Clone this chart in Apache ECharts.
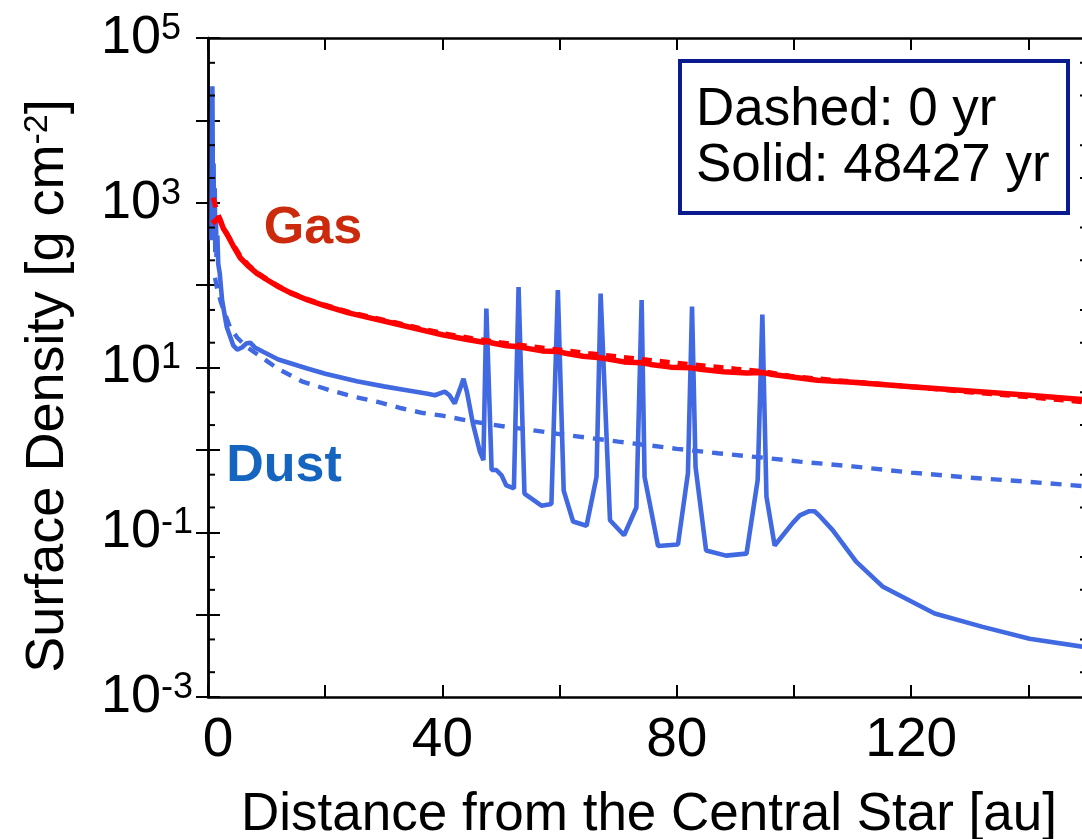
<!DOCTYPE html>
<html><head><meta charset="utf-8">
<script src="https://cdn.jsdelivr.net/npm/echarts@6/dist/echarts.min.js"></script>
<style>html,body{margin:0;padding:0;background:#fff}#c{width:1082px;height:839px}</style>
</head><body><div id="c"></div>
<script>
// ---- data ----
const gasX0 = [0.9,1.2,1.6,2.0,2.6,3.2,4.3,5.5,6.8,8.3,10,12,14,17,20,24,28,32,36,40,45,50,55,60,65,70,75,80,85,90,95,100,110,120,130,140,150];
const gasY0 = [1150,950,760,640,500,420,310,225,178,142,118,97,82,67,57,47,40.5,35,30,26,22.5,20,18,16.3,14.8,13.5,12.3,11.3,10.4,9.6,8.9,7.7,6.7,5.85,5.05,4.4,3.8];

const gasX1 = [0.75,1.2,1.9,2.3,2.6,3.2,4.3,5.5,6.8,8.3,10,12,14,17,20,24,28,32,36,40,44,47.0,47.7,48.5,51,53.0,54,57,59.7,61,64,67.0,68.5,71,74.0,75.5,79,82.6,84,88,92,94.6,96,100,104,110,120,130,140,150];
const gasY1 = [560,600,660,560,490,420,300,215,172,140,117,96,81,66,56,46,39.5,34,29,25,22,20.3,20.8,19.8,18.4,17.9,17.3,15.9,15.6,14.9,13.7,13.1,12.6,11.7,11.4,10.9,10.1,9.9,9.5,8.9,8.6,8.7,8.3,7.6,7.0,6.6,5.85,5.2,4.6,4.05];

const dustX0 = [1.2,1.6,2.2,3.0,3.75,5,6.5,9,12,16,20.8,25,28.8,33,36.7,40,45,50,55,60,65,70,75,80,87,95,101,110,120,130,140,150];
const dustY0 = [123,88,62,43,31,23,18,13.5,9.6,6.8,5.3,4.4,3.84,3.2,2.8,2.6,2.22,1.95,1.75,1.55,1.4,1.26,1.14,1.03,0.91,0.8,0.72,0.63,0.53,0.46,0.41,0.36];

const dustX1 = [0.6,0.75,0.85,0.95,1.05,1.15,1.25,1.35,1.45,1.6,1.75,2.0,2.4,3.2,4.3,5.0,5.8,6.5,7.2,8.0,9.4,12,16.8,20,25.4,30,33.9,37.5,38.7,40.4,41.2,42.1,43.0,43.6,44.2,45.2,46.4,47.0,47.5,48.4,49.2,50.1,50.9,52.2,53.0,54.0,56.9,58.6,59.7,60.7,62.3,64.6,66.3,67.0,68.6,71.0,73.1,74.0,74.5,76.8,80.2,81.9,82.6,83.2,85.0,88.4,91.9,93.8,94.6,95.3,96.7,99.8,101,102.6,103.5,104.3,106.6,110.6,115.1,124.0,132.2,140.2,150];
const dustY1 = [350,26000,800,3000,400,1500,250,700,220,400,180,140,66,31,18.6,16.5,17.5,19.5,20,17.5,15.5,12.5,9.8,8.4,6.8,5.9,5.3,4.8,4.6,5.1,4.6,3.65,5.5,7.3,5.0,2.1,0.95,0.75,52,0.57,0.57,0.49,0.37,0.34,95,0.295,0.21,0.22,87,0.32,0.135,0.12,0.47,79,0.14,0.092,0.20,66,0.47,0.068,0.071,0.52,55,0.62,0.060,0.052,0.055,0.43,44,0.27,0.069,0.13,0.16,0.18,0.18,0.16,0.106,0.044,0.022,0.0103,0.0071,0.0051,0.0040];

const xTickLabels = ['0','40','80','120'];
const yTickExponents = [5,3,1,-1,-3];
const yMinorTicks = [5e4,2e4,5e3,2e3,500,200,50,20,5,2,0.5,0.2,0.05,0.02,0.005,0.002];

const FONT = "'Liberation Sans', Arial, Helvetica, sans-serif";
const BLUE = '#4169e1', RED = '#ff0000';
const zip = (xs, ys) => xs.map((x, i) => [x, ys[i]]);

const chart = echarts.init(document.getElementById('c'), null, {renderer: 'canvas'});
const yLabelFmt = v => {
  const e = Math.round(Math.log10(v));
  return yTickExponents.indexOf(e) >= 0 ? '{b|10}{s|' + e + '}' : '';
};
const xLabelFmt = v => {
  const s = String(v);
  if (xTickLabels.indexOf(s) < 0) return '';
  return s === '0' ? '{z|0}' : s;
};
const axisLineStyle = {color: '#000', width: 2.5};
chart.setOption({
  animation: false,
  backgroundColor: '#fff',
  grid: {left: 208, top: 38, right: -5, bottom: 142, containLabel: false, outerBoundsMode: 'none'},
  xAxis: [
    {type: 'value', min: 0, max: 150, interval: 20, position: 'bottom',
     axisLine: {show: true, lineStyle: axisLineStyle},
     axisTick: {show: true, inside: true, length: 12, lineStyle: {color: '#000', width: 2}},
     splitLine: {show: false},
     axisLabel: {show: true, margin: 16, fontSize: 55, fontFamily: FONT, color: '#000',
       formatter: xLabelFmt,
       rich: {z: {fontSize: 55, fontFamily: FONT, color: '#000', padding: [0, 0, 0, 20]}}}},
    {type: 'value', min: 0, max: 150, interval: 20, position: 'top',
     axisLine: {show: true, lineStyle: axisLineStyle},
     axisTick: {show: true, inside: true, length: 12, lineStyle: {color: '#000', width: 2}},
     splitLine: {show: false}, axisLabel: {show: false}}
  ],
  yAxis: [
    {type: 'log', logBase: 10, min: 1e-3, max: 1e5, interval: 1, position: 'left',
     axisLine: {show: true, lineStyle: axisLineStyle},
     axisTick: {show: true, inside: true, length: 12, lineStyle: {color: '#000', width: 2}},
     splitLine: {show: false},
     axisLabel: {show: true, margin: 107, align: 'left', formatter: yLabelFmt,
       rich: {b: {fontSize: 54, fontFamily: FONT, color: '#000', lineHeight: 54},
              s: {fontSize: 36, fontFamily: FONT, color: '#000', verticalAlign: 'top', lineHeight: 36}}}},
    {type: 'log', logBase: 10, min: 1e-3, max: 1e5, interval: 1, position: 'right',
     axisLine: {show: true, lineStyle: axisLineStyle},
     axisTick: {show: true, inside: true, length: 12, lineStyle: {color: '#000', width: 2}},
     splitLine: {show: false}, axisLabel: {show: false}}
  ],
  series: [
    {type: 'custom', silent: true, clip: false, xAxisIndex: 0, yAxisIndex: 0, z: 5,
     data: yMinorTicks.map(v => [0, v]), encode: {x: 0, y: 1},
     renderItem: (params, api) => {
       const cs = params.coordSys;
       const p = api.coord([0, api.value(1)]);
       return {type: 'group', children: [
         {type: 'line', shape: {x1: cs.x, y1: p[1], x2: cs.x + 7, y2: p[1]}, style: {stroke: '#000', lineWidth: 2}},
         {type: 'line', shape: {x1: cs.x + cs.width - 7, y1: p[1], x2: cs.x + cs.width, y2: p[1]}, style: {stroke: '#000', lineWidth: 2}}
       ]};
     }},
    {name: 'Dust 48427 yr', type: 'line', data: zip(dustX1, dustY1), showSymbol: false, z: 2,
     lineStyle: {color: BLUE, width: 4.6}},
    {name: 'Dust 0 yr', type: 'line', data: zip(dustX0, dustY0), showSymbol: false, z: 3,
     lineStyle: {color: BLUE, width: 4.4, type: [11, 9]}},
    {name: 'Gas 0 yr', type: 'line', data: zip(gasX0, gasY0), showSymbol: false, z: 4,
     lineStyle: {color: RED, width: 5, type: [10, 8]}},
    {name: 'Gas 48427 yr', type: 'line', data: zip(gasX1, gasY1), showSymbol: false, z: 4,
     lineStyle: {color: RED, width: 5.5}}
  ],
  graphic: [
    {type: 'rect', z: 100, shape: {x: 680, y: 61, width: 388, height: 152},
     style: {fill: '#fff', stroke: '#0a1a8f', lineWidth: 4}},
    {type: 'text', z: 101, x: 696, y: 110,
     style: {text: 'Dashed: 0 yr', font: '53px ' + FONT, fill: '#000', verticalAlign: 'middle', align: 'left'}},
    {type: 'text', z: 101, x: 696, y: 166,
     style: {text: 'Solid: 48427 yr', font: '53px ' + FONT, fill: '#000', verticalAlign: 'middle', align: 'left'}},
    {type: 'text', z: 101, x: 313, y: 229,
     style: {text: 'Gas', font: 'bold 52px ' + FONT, fill: '#cc2a0c', verticalAlign: 'middle', align: 'center'}},
    {type: 'text', z: 101, x: 284, y: 467,
     style: {text: 'Dust', font: 'bold 52px ' + FONT, fill: '#1565c0', verticalAlign: 'middle', align: 'center'}},
    {type: 'text', z: 101, x: 649, y: 815,
     style: {text: 'Distance from the Central Star [au]', font: '53px ' + FONT, fill: '#000', verticalAlign: 'middle', align: 'center'}},
    {type: 'text', z: 101, x: 48, y: 386, rotation: Math.PI / 2,
     style: {text: '{a|Surface Density [g cm}{s|-2}{a|]}', fill: '#000', verticalAlign: 'middle', align: 'center',
       rich: {a: {fontSize: 54, fontFamily: FONT, color: '#000', lineHeight: 54},
              s: {fontSize: 34, fontFamily: FONT, color: '#000', verticalAlign: 'top', lineHeight: 34}}}}
  ]
});
</script></body></html>
